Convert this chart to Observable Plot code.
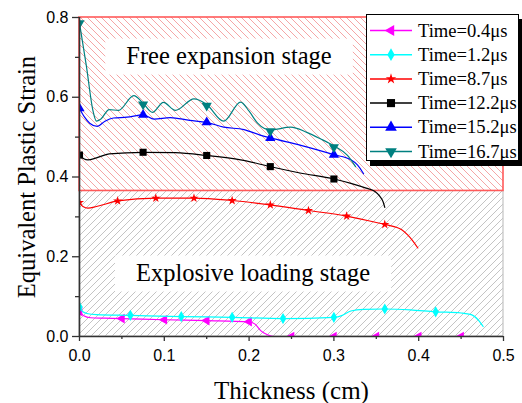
<!DOCTYPE html>
<html><head><meta charset="utf-8">
<script src="https://cdn.jsdelivr.net/npm/d3@7"></script>
<script src="https://cdn.jsdelivr.net/npm/@observablehq/plot@0.6"></script>
<style>body{margin:0;background:#fff} svg{display:block}</style>
</head><body><div id="chart"></div>
<script>
// ---------- data ----------
const seriesNames = ["Time=0.4μs","Time=1.2μs","Time=8.7μs","Time=12.2μs","Time=15.2μs","Time=16.7μs"];
const seriesColors = ["#ff00ff","#00ffff","#ff0000","#000000","#0000ff","#008080"];
const seriesSymbols = ["triangle","diamond","star","square","triangle","triangle"];
const seriesRotate = [-90,0,0,0,0,180];
const seriesR = [3.6,3.4,2.9,4,3.8,3.8];

const lineX04 = [0,0.005,0.013,0.03,0.05,0.1,0.15,0.2,0.207,0.214,0.221,0.23,0.3,0.4,0.485];
const lineY04 = [0.064,0.052,0.047,0.046,0.045,0.042,0.040,0.037,0.031,0.014,0.005,0,0,0,0];
const markX04 = [0,0.05,0.1,0.15,0.2,0.25,0.3,0.35,0.4,0.45];
const markY04 = [0.063,0.045,0.042,0.040,0.037,0,0,0,0,0];

const lineX12 = [0,0.004,0.01,0.02,0.06,0.12,0.18,0.24,0.3,0.31,0.32,0.335,0.36,0.39,0.42,0.45,0.462,0.47,0.476];
const lineY12 = [0.076,0.062,0.057,0.055,0.053,0.050,0.048,0.045,0.048,0.053,0.064,0.068,0.069,0.067,0.062,0.059,0.055,0.042,0.025];
const markX12 = [0,0.06,0.12,0.18,0.24,0.3,0.36,0.42];
const markY12 = [0.074,0.053,0.050,0.048,0.045,0.048,0.069,0.062];

const lineX87 = [0,0.004,0.01,0.02,0.045,0.09,0.135,0.18,0.225,0.27,0.315,0.36,0.372,0.38,0.387,0.393,0.399];
const lineY87 = [0.336,0.326,0.322,0.326,0.340,0.347,0.347,0.341,0.330,0.316,0.302,0.281,0.275,0.268,0.255,0.240,0.222];
const markX87 = [0,0.045,0.09,0.135,0.18,0.225,0.27,0.315,0.36];
const markY87 = [0.336,0.340,0.347,0.347,0.341,0.330,0.316,0.302,0.281];

const lineX122 = [0,0.005,0.01,0.02,0.035,0.075,0.113,0.15,0.19,0.225,0.26,0.3,0.32,0.338,0.348,0.354,0.358,0.36];
const lineY122 = [0.455,0.446,0.443,0.448,0.458,0.462,0.461,0.454,0.443,0.426,0.41,0.395,0.384,0.372,0.364,0.352,0.338,0.324];
const markX122 = [0,0.075,0.15,0.225,0.3];
const markY122 = [0.455,0.462,0.454,0.426,0.395];

const lineX152 = [0,0.006,0.012,0.021,0.03,0.04,0.056,0.075,0.088,0.107,0.13,0.15,0.17,0.194,0.213,0.225,0.26,0.3,0.32,0.328,0.335];
const lineY152 = [0.572,0.550,0.535,0.527,0.540,0.548,0.550,0.556,0.545,0.549,0.542,0.537,0.525,0.519,0.505,0.498,0.480,0.456,0.443,0.430,0.408];
const markX152 = [0,0.075,0.15,0.225,0.3];
const markY152 = [0.572,0.556,0.537,0.498,0.456];

const lineX167 = [0,0.008,0.016,0.02,0.025,0.035,0.046,0.064,0.075,0.086,0.099,0.113,0.135,0.15,0.17,0.19,0.2,0.21,0.225,0.249,0.268,0.284,0.3,0.316,0.3255];
const lineY167 = [0.786,0.68,0.565,0.54,0.545,0.569,0.567,0.604,0.585,0.562,0.587,0.567,0.596,0.582,0.54,0.588,0.565,0.535,0.518,0.525,0.512,0.496,0.478,0.454,0.426];
const markX167 = [0,0.075,0.15,0.225,0.3];
const markY167 = [0.786,0.582,0.579,0.515,0.475];

const stageNames = ["Explosive loading stage","Free expansion stage"];
const stageLow = [0,0.365];
const stageHigh = [0.365,0.8];
const stageLabelX = [0.2046,0.1763];
const stageLabelY = [0.16,0.704];

const xTicks = [0,0.1,0.2,0.3,0.4,0.5];
const xMinor = [0.05,0.15,0.25,0.35,0.45];
const yTicks = [0,0.2,0.4,0.6,0.8];
const yMinor = [0.1,0.3,0.5,0.7];

// ---------- build ----------
const lineXs = [lineX04,lineX12,lineX87,lineX122,lineX152,lineX167];
const lineYs = [lineY04,lineY12,lineY87,lineY122,lineY152,lineY167];
const markXs = [markX04,markX12,markX87,markX122,markX152,markX167];
const markYs = [markY04,markY12,markY87,markY122,markY152,markY167];

const stages = stageNames.map((n,i)=>({name:n, y1:stageLow[i], y2:stageHigh[i], lx:stageLabelX[i], ly:stageLabelY[i]}));
const serif = "'Liberation Serif','Times New Roman',serif";
const sans = "'Liberation Sans',Arial,sans-serif";

const seriesMarks = [];
seriesNames.forEach((name,i)=>{
  const pts = lineXs[i].map((x,j)=>({x, y: lineYs[i][j]}));
  const mks = markXs[i].map((x,j)=>({x, y: markYs[i][j]}));
  seriesMarks.push(Plot.line(pts,{x:"x",y:"y",stroke:seriesColors[i],strokeWidth:1.2,curve:"monotone-x",clip:true}));
  seriesMarks.push(Plot.dot(mks,{x:"x",y:"y",symbol:seriesSymbols[i],r:seriesR[i],fill:seriesColors[i],stroke:"none",rotate:seriesRotate[i],clip:true}));
});

const plot = Plot.plot({
  width:522, height:403,
  marginLeft:79, marginRight:19, marginTop:17, marginBottom:67,
  style:{background:"#fff", overflow:"visible"},
  x:{domain:[0,0.5]},
  y:{domain:[0,0.8]},
  marks:[
    Plot.rect(stages.slice(0,1),{x1:0,x2:0.5,y1:"y1",y2:"y2",fill:"url(#hatchGrey)",stroke:"#c4c4c4",strokeWidth:1.2}),
    Plot.rect(stages.slice(1),{x1:0,x2:0.5,y1:"y1",y2:"y2",fill:"url(#hatchRed)",stroke:"#ff5a5a",strokeWidth:1.6}),
    Plot.text(stages,{x:"lx",y:"ly",text:"name",fontSize:24.5,fontFamily:serif,fill:"#000"}),
    ...seriesMarks,
    Plot.ruleY([0],{stroke:"#333",strokeWidth:1.6}),
    Plot.ruleX([0],{stroke:"#333",strokeWidth:1.6}),
    Plot.axisX({ticks:xTicks,tickFormat:d3.format(".1f"),tickSize:5,tickPadding:8,fontSize:16,fontFamily:sans,label:null,fill:"#000",stroke:"#333",strokeWidth:1.3}),
    Plot.axisX({ticks:xMinor,tickFormat:()=>"",tickSize:3,label:null,stroke:"#333",strokeWidth:1.3}),
    Plot.axisY({ticks:yTicks,tickFormat:d3.format(".1f"),tickSize:7,tickPadding:4,fontSize:16,fontFamily:sans,label:null,fill:"#000",stroke:"#333",strokeWidth:1.3}),
    Plot.axisY({ticks:yMinor,tickFormat:()=>"",tickSize:4,label:null,stroke:"#333",strokeWidth:1.3}),
    Plot.text(["Thickness (cm)"],{frameAnchor:"bottom",dy:54,lineAnchor:"middle",textAnchor:"middle",text:d=>d,fontSize:25,fontFamily:serif,fill:"#000"}),
    Plot.text(["Equivalent Plastic Strain"],{frameAnchor:"left",dx:-52,rotate:-90,lineAnchor:"middle",textAnchor:"middle",text:d=>d,fontSize:24.5,fontFamily:serif,fill:"#000"})
  ]
});
document.getElementById("chart").appendChild(plot);

// ---------- patterns ----------
const svg = d3.select(plot);
const defs = svg.insert("defs",":first-child");
const pr = defs.append("pattern").attr("id","hatchRed").attr("patternUnits","userSpaceOnUse").attr("width",7).attr("height",7);
pr.append("rect").attr("width",7).attr("height",7).attr("fill","#fff");
pr.append("path").attr("d","M0,0L7,7M-1,6L1,8M6,-1L8,1").attr("stroke","#f49c9c").attr("stroke-width",0.9).attr("fill","none");
const pg = defs.append("pattern").attr("id","hatchGrey").attr("patternUnits","userSpaceOnUse").attr("width",7).attr("height",7);
pg.append("rect").attr("width",7).attr("height",7).attr("fill","#fff");
pg.append("path").attr("d","M0,7L7,0M-1,1L1,-1M6,8L8,6").attr("stroke","#bdbdbd").attr("stroke-width",0.9).attr("fill","none");

// ---------- white boxes behind stage labels ----------
const svgRect = plot.getBoundingClientRect();
const labelTexts = svg.selectAll("text").filter(function(){ return stageNames.includes(this.textContent); });
const labelGroup = labelTexts.node().parentNode;
const boxG = d3.select(labelGroup.parentNode.insertBefore(document.createElementNS("http://www.w3.org/2000/svg","g"), labelGroup));
labelTexts.each(function(){
  const b = this.getBoundingClientRect();
  const cx = b.left - svgRect.left + b.width/2;
  const cy = b.top - svgRect.top + b.height/2 + 1.5;
  const w = b.width + 42;
  boxG.append("rect").attr("x",cx-w/2).attr("y",cy-18).attr("width",w).attr("height",36).attr("fill","#fff");
});

// ---------- legend ----------
const lg = svg.append("g").attr("text-anchor","start");
lg.append("rect").attr("x",370).attr("y",19).attr("width",153).attr("height",147).attr("fill","#000");
lg.append("rect").attr("x",366.5).attr("y",14.5).attr("width",152).attr("height",146).attr("fill","#fff").attr("stroke","#000").attr("stroke-width",1);
const symMap = {triangle:d3.symbolTriangle, diamond:d3.symbolDiamond, star:d3.symbolStar, square:d3.symbolSquare};
seriesNames.forEach((name,i)=>{
  const y = 30.5 + i*24.2;
  lg.append("line").attr("x1",370).attr("x2",412).attr("y1",y).attr("y2",y).attr("stroke",seriesColors[i]).attr("stroke-width",1.5);
  lg.append("path").attr("d",d3.symbol(symMap[seriesSymbols[i]], Math.PI*seriesR[i]*seriesR[i]*1.3)())
    .attr("transform",`translate(391,${y}) rotate(${seriesRotate[i]})`).attr("fill",seriesColors[i]);
  lg.append("text").attr("x",418).attr("y",y+6).attr("text-anchor","start").attr("font-family",serif).attr("font-size",18.6).attr("fill","#000").text(name);
});
</script>
</body></html>
